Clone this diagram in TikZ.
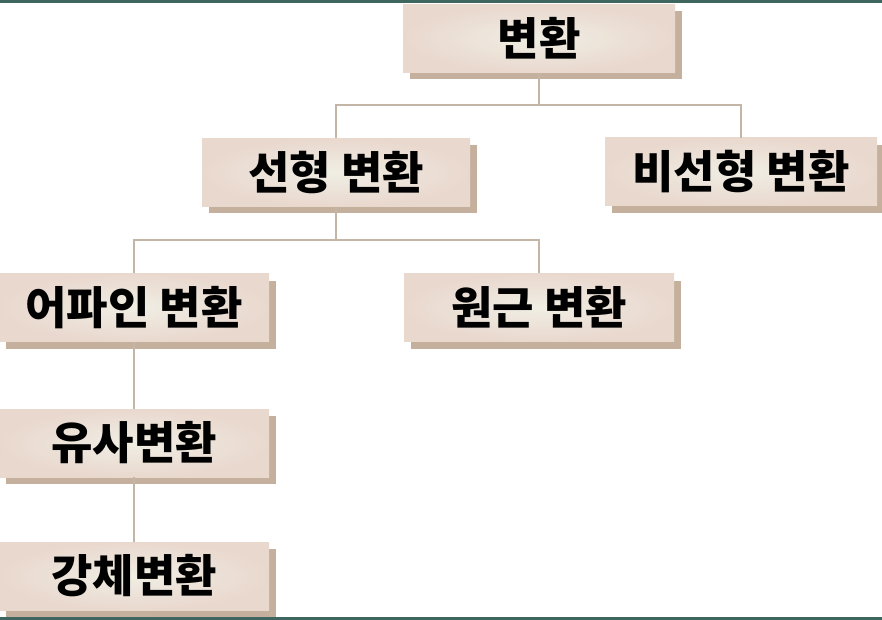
\documentclass[tikz,border=0pt]{standalone}
\usepackage{fontspec}
\newfontfamily\kr{Noto Sans CJK KR}
\usetikzlibrary{shadows}
\definecolor{band}{RGB}{62,102,94}
\definecolor{boxin}{RGB}{240,238,228}
\definecolor{boxout}{RGB}{233,216,206}
\definecolor{shadowc}{RGB}{196,176,156}
\definecolor{linec}{RGB}{196,182,166}
\tikzset{
  tbox/.style={rectangle, inner color=boxin, outer color=boxout,
    minimum width=270pt, minimum height=68pt, inner sep=0pt,
    font=\kr\bfseries\fontsize{45}{50}\selectfont, text=black,
    drop shadow={shadow xshift=7pt, shadow yshift=-7pt, fill=shadowc, opacity=1}},
  conn/.style={draw=linec, line width=2pt}
}
\begin{document}
\begin{tikzpicture}[x=1pt,y=-1pt]
\useasboundingbox (0,0) rectangle (882,620);
\fill[band] (0,0) rectangle (882,3);
\fill[band] (0,617) rectangle (882,620);
% junctions
\coordinate (j1) at (539,105);
\coordinate (j2) at (336,240);
% nodes
\node[tbox, minimum width=272pt] (root) at (539,38.5) {변환};
\node[tbox, minimum width=268pt] (lin) at (336,172.5) {선형 변환};
\node[tbox, minimum width=272pt] (nonlin) at (741,172) {비선형 변환};
\node[tbox] (aff) at (134,307.5) {어파인 변환};
\node[tbox] (persp) at (539,307.5) {원근 변환};
\node[tbox] (sim) at (134,443) {유사변환};
\node[tbox] (rigid) at (134,576) {강체변환};
% connectors
\draw[conn] (root.south) -- (j1);
\draw[conn] (j1) -| (lin.north);
\draw[conn] (j1) -| (nonlin.north);
\draw[conn] (lin.south) -- (j2);
\draw[conn] (j2) -| (aff.north);
\draw[conn] (j2) -| (persp.north);
\draw[conn] (aff.south) -- (sim.north);
\draw[conn] (sim.south) -- (rigid.north);
\end{tikzpicture}
\end{document}
